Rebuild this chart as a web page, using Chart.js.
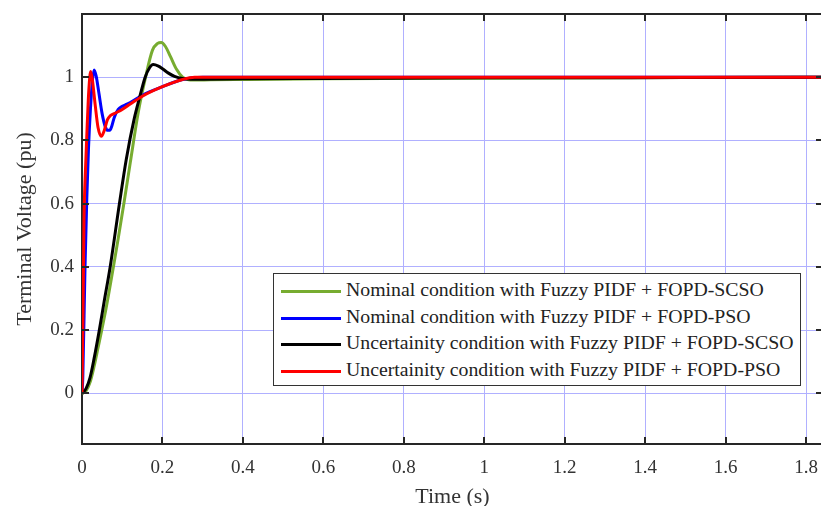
<!DOCTYPE html>
<html>
<head>
<meta charset="utf-8">
<script src="https://cdn.jsdelivr.net/npm/chart.js@4/dist/chart.umd.min.js"></script>
<style>
  html, body { margin: 0; padding: 0; background: #fff; overflow: hidden; width: 821px; height: 506px; }
  #wrap { position: relative; width: 821px; height: 506px; overflow: hidden; }
  canvas { display: block; }
  #legend { position: absolute; left: 273px; top: 273px; width: 528px; height: 113px; background: #fff;
            border: 1px solid #333; box-sizing: border-box; font-family: "Liberation Serif", serif; font-size: 19.8px; color: #222; }
  .row { position: absolute; left: 0; height: 26px; white-space: nowrap; }
  .sw { position: absolute; left: 7px; top: 12px; width: 60px; height: 3px; }
  .lb { position: absolute; left: 72px; top: 0px; }
</style>
</head>
<body>
<div id="wrap">
  <canvas id="c" width="837" height="506"></canvas>
  <div id="legend"></div>
</div>
<script>
// ---- data ----
const seriesLabels = [
  "Nominal condition with Fuzzy PIDF + FOPD-SCSO",
  "Nominal condition with Fuzzy PIDF + FOPD-PSO",
  "Uncertainity condition with Fuzzy PIDF + FOPD-SCSO",
  "Uncertainity condition with Fuzzy PIDF + FOPD-PSO"
];
const seriesColors = ["#77AC30", "#0000FF", "#000000", "#FF0000"];

const nominalScsoT = [0, 0.01, 0.02, 0.03, 0.04, 0.049, 0.06, 0.078, 0.09, 0.104, 0.12, 0.14, 0.158, 0.175, 0.188, 0.197, 0.207, 0.22, 0.235, 0.25, 0.262, 0.28, 0.32, 0.4, 0.6, 1.0, 1.5, 1.85];
const nominalScsoV = [0, 0.008, 0.035, 0.085, 0.145, 0.2, 0.27, 0.4, 0.49, 0.6, 0.73, 0.89, 1.0, 1.085, 1.107, 1.11, 1.098, 1.065, 1.025, 1.0, 0.993, 0.991, 0.992, 0.993, 0.995, 0.997, 0.999, 1.0];

const nominalPsoT = [0, 0.002, 0.0075, 0.012, 0.016, 0.021, 0.026, 0.030, 0.035, 0.042, 0.05, 0.058, 0.064, 0.069, 0.074, 0.08, 0.09, 0.1, 0.11, 0.12, 0.15, 0.2, 0.25, 0.3, 0.4, 0.6, 1.0, 1.5, 1.85];
const nominalPsoV = [0, 0.05, 0.4, 0.62, 0.77, 0.9, 0.99, 1.023, 1.005, 0.95, 0.885, 0.843, 0.832, 0.832, 0.845, 0.872, 0.898, 0.908, 0.914, 0.92, 0.943, 0.97, 0.993, 1.0, 1.0, 1.0, 1.0, 1.0, 1.0];

const uncertScsoT = [0, 0.01, 0.02, 0.03, 0.043, 0.055, 0.07, 0.093, 0.11, 0.13, 0.144, 0.157, 0.168, 0.177, 0.19, 0.2, 0.215, 0.23, 0.25, 0.27, 0.3, 0.4, 0.6, 1.0, 1.5, 1.85];
const uncertScsoV = [0, 0.015, 0.05, 0.11, 0.2, 0.29, 0.4, 0.6, 0.74, 0.87, 0.94, 1.0, 1.03, 1.04, 1.035, 1.027, 1.013, 1.003, 0.996, 0.994, 0.994, 0.995, 0.996, 0.998, 0.999, 1.0];

const uncertPsoT = [0, 0.002, 0.005, 0.009, 0.013, 0.017, 0.0215, 0.026, 0.033, 0.04, 0.048, 0.055, 0.063, 0.07, 0.08, 0.1, 0.12, 0.15, 0.2, 0.25, 0.28, 0.4, 0.6, 1.0, 1.5, 1.85];
const uncertPsoV = [0, 0.2, 0.55, 0.72, 0.85, 0.96, 1.018, 0.99, 0.91, 0.84, 0.813, 0.83, 0.865, 0.878, 0.885, 0.898, 0.915, 0.94, 0.97, 0.993, 1.0, 1.0, 1.0, 1.0, 1.0, 1.0];

const xTickValues = [0, 0.2, 0.4, 0.6, 0.8, 1, 1.2, 1.4, 1.6, 1.8];
const yTickValues = [0, 0.2, 0.4, 0.6, 0.8, 1];

// ---- build ----
const seriesT = [nominalScsoT, nominalPsoT, uncertScsoT, uncertPsoT];
const seriesV = [nominalScsoV, nominalPsoV, uncertScsoV, uncertPsoV];
const drawOrder = [3, 2, 1, 0]; // red on top

const datasets = seriesLabels.map((lab, i) => ({
  label: lab,
  data: seriesT[i].map((t, k) => ({ x: t, y: seriesV[i][k] })),
  borderColor: seriesColors[i],
  backgroundColor: seriesColors[i],
  borderWidth: 3,
  pointRadius: 0,
  cubicInterpolationMode: 'monotone',
  fill: false,
  order: drawOrder[i]
}));

const FONT = "'Liberation Serif', serif";
const gridColor = '#b0b0ff';
const axisColor = '#262626';
const fmt = v => String(Math.round(v * 10) / 10);
const noPad = s => { s.paddingTop = 0; s.paddingBottom = 0; s.paddingLeft = 0; s.paddingRight = 0; };

const inwardTicks = {
  id: 'inwardTicks',
  afterDraw(chart) {
    const ctx = chart.ctx, a = chart.chartArea;
    const xs = chart.scales.x, ys = chart.scales.y;
    ctx.save();
    ctx.strokeStyle = axisColor;
    ctx.lineWidth = 2;
    ctx.beginPath();
    xs.ticks.forEach(t => {
      const p = Math.round(xs.getPixelForValue(t.value));
      ctx.moveTo(p, a.bottom); ctx.lineTo(p, a.bottom - 7);
      ctx.moveTo(p, a.top); ctx.lineTo(p, a.top + 7);
    });
    ys.ticks.forEach(t => {
      const p = Math.round(ys.getPixelForValue(t.value));
      ctx.moveTo(a.left, p); ctx.lineTo(a.left + 7, p);
      ctx.moveTo(a.right, p); ctx.lineTo(a.right - 7, p);
    });
    ctx.stroke();
    ctx.restore();
  }
};

new Chart(document.getElementById('c'), {
  type: 'line',
  data: { datasets },
  options: {
    responsive: false,
    animation: false,
    events: [],
    layout: { padding: 0, autoPadding: false },
    plugins: { legend: { display: false }, tooltip: { enabled: false } },
    scales: {
      x: {
        type: 'linear', position: 'bottom', min: 0, max: 1.842,
        afterBuildTicks: s => { s.ticks = xTickValues.map(v => ({ value: v })); },
        afterFit: s => { s.height = 62; noPad(s); },
        grid: { color: gridColor, lineWidth: 1, drawTicks: false },
        border: { color: axisColor, width: 2 },
        ticks: { font: { family: FONT, size: 19 }, color: '#333', padding: 13, maxRotation: 0, autoSkip: false, callback: fmt },
        title: { display: true, text: 'Time (s)', font: { family: FONT, size: 22, lineHeight: 1 }, color: '#333', padding: { top: 0, bottom: -2 } }
      },
      x2: {
        type: 'linear', position: 'top', min: 0, max: 1.842,
        afterFit: s => { s.height = 14; noPad(s); },
        grid: { display: false, drawTicks: false },
        border: { color: axisColor, width: 2 },
        ticks: { display: false }
      },
      y: {
        type: 'linear', position: 'left', min: -0.16, max: 1.2,
        afterBuildTicks: s => { s.ticks = yTickValues.map(v => ({ value: v })); },
        afterFit: s => { s.width = 82; noPad(s); },
        grid: { color: gridColor, lineWidth: 1, drawTicks: false },
        border: { color: axisColor, width: 2 },
        ticks: { font: { family: FONT, size: 19 }, color: '#333', padding: 8, callback: fmt },
        title: { display: true, text: 'Terminal Voltage (pu)', font: { family: FONT, size: 22, lineHeight: 1.2 }, color: '#333', padding: { top: 12, bottom: 0 } }
      },
      y2: {
        type: 'linear', position: 'right', min: -0.16, max: 1.2,
        afterFit: s => { s.width = 14; noPad(s); },
        grid: { display: false, drawTicks: false },
        border: { color: axisColor, width: 2 },
        ticks: { display: false }
      }
    }
  },
  plugins: [inwardTicks]
});

// HTML legend built from the series arrays
const lg = document.getElementById('legend');
seriesLabels.forEach((lab, i) => {
  const r = document.createElement('div');
  r.className = 'row';
  r.style.top = (4 + i * 26.5) + 'px';
  const sw = document.createElement('div');
  sw.className = 'sw'; sw.style.background = seriesColors[i];
  const tx = document.createElement('div');
  tx.className = 'lb'; tx.textContent = lab;
  r.appendChild(sw); r.appendChild(tx);
  lg.appendChild(r);
});
</script>
</body>
</html>
